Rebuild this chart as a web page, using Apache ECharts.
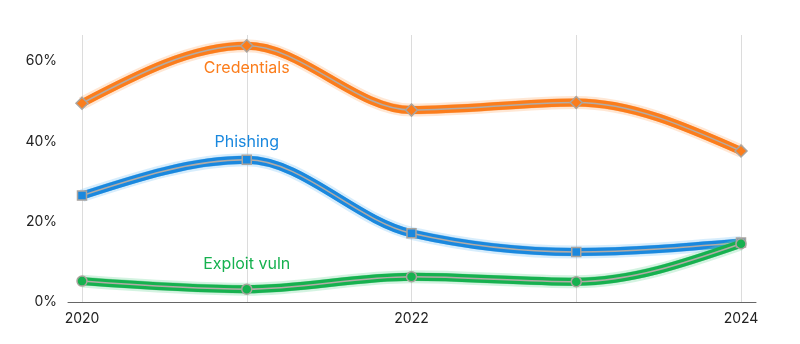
<!DOCTYPE html>
<html>
<head>
<meta charset="utf-8">
<script src="https://cdn.jsdelivr.net/npm/echarts@6/dist/echarts.min.js"></script>
<style>
html,body{margin:0;padding:0;background:#fff;}
#chart{width:800px;height:344px;}
</style>
</head>
<body>
<div id="chart"></div>
<script>
var years = [2020, 2021, 2022, 2023, 2024];
var xTickLabels = ['2020', '2022', '2024'];
var yTickLabels = ['0%', '20%', '40%', '60%'];
var credentials = [49.5, 63.8, 47.8, 49.7, 37.6];
var phishing = [26.5, 35.4, 17.1, 12.45, 14.8];
var exploit = [5.2, 3.2, 6.3, 5.06, 14.5];
var seriesNames = ['Credentials', 'Phishing', 'Exploit vuln'];

var FONT = 'Inter, "Liberation Sans", sans-serif';

function monotonePath(pts) {
  var n = pts.length;
  var t = new Array(n);
  function sign(v) { return v < 0 ? -1 : 1; }
  for (var i = 1; i < n - 1; i++) {
    var h0 = pts[i][0] - pts[i-1][0], h1 = pts[i+1][0] - pts[i][0];
    var s0 = (pts[i][1] - pts[i-1][1]) / h0, s1 = (pts[i+1][1] - pts[i][1]) / h1;
    var p = (s0 * h1 + s1 * h0) / (h0 + h1);
    t[i] = (sign(s0) + sign(s1)) * Math.min(Math.abs(s0), Math.abs(s1), 0.5 * Math.abs(p)) || 0;
  }
  var hA = pts[1][0] - pts[0][0];
  t[0] = (3 * (pts[1][1] - pts[0][1]) / hA - t[1]) / 2;
  var hB = pts[n-1][0] - pts[n-2][0];
  t[n-1] = (3 * (pts[n-1][1] - pts[n-2][1]) / hB - t[n-2]) / 2;
  var d = 'M' + pts[0][0] + ' ' + pts[0][1];
  for (var j = 0; j < n - 1; j++) {
    var dx = (pts[j+1][0] - pts[j][0]) / 3;
    d += ' C' + (pts[j][0] + dx) + ' ' + (pts[j][1] + dx * t[j]) + ' ' +
         (pts[j+1][0] - dx) + ' ' + (pts[j+1][1] - dx * t[j+1]) + ' ' +
         pts[j+1][0] + ' ' + pts[j+1][1];
  }
  return d;
}

function lineSeries(vals, color, light) {
  return {
    type: 'custom',
    coordinateSystem: 'cartesian2d',
    xAxisIndex: 0, yAxisIndex: 0,
    silent: true,
    clip: false,
    data: [[years[0], vals[0]]],
    renderItem: function (params, api) {
      var pts = years.map(function (x, i) { return api.coord([x, vals[i]]); });
      var d = monotonePath(pts);
      var children = [];
      children.push({ type: 'path', shape: { pathData: d }, style: { fill: null, stroke: light, lineWidth: 13, opacity: 0.3 } });
      var offs = [-3.5, -2.5, -1.5, 1.5, 2.5, 3.5];
      offs.forEach(function (o) {
        children.push({ type: 'path', y: o, shape: { pathData: d }, style: { fill: null, stroke: color, lineWidth: 1.5, opacity: 0.4 } });
      });
      children.push({ type: 'path', shape: { pathData: d }, style: { fill: null, stroke: color, lineWidth: 8 } });
      children.push({ type: 'path', shape: { pathData: d }, style: { fill: null, stroke: '#b3aca6', lineWidth: 1.5 } });
      return { type: 'group', children: children };
    }
  };
}

function markerSeries(name, vals, color, symbol, size, labelPos, labelOffset) {
  return {
    name: name,
    type: 'scatter',
    xAxisIndex: 0, yAxisIndex: 0,
    symbol: symbol,
    symbolSize: size,
    itemStyle: { color: color, borderColor: '#aaa49e', borderWidth: 1.5, opacity: 1 },
    silent: true,
    data: years.map(function (y, i) {
      var item = { value: [y, vals[i]] };
      if (i === 1) {
        item.label = {
          show: true, formatter: name, position: labelPos, offset: labelOffset,
          color: color, fontSize: 16, fontFamily: FONT
        };
      }
      return item;
    })
  };
}

var cOr = '#fb7d1c', cBl = '#1a88de', cGr = '#16b14f';

var option = {
  animation: false,
  backgroundColor: '#fff',
  grid: [
    { left: 82, right: 59, top: 35, bottom: 42 },
    { left: 68, right: 44, top: 35, bottom: 42 }
  ],
  xAxis: [
    {
      type: 'value', gridIndex: 0, min: 2020, max: 2024, interval: 1,
      axisLine: { show: false }, axisTick: { show: false },
      splitLine: { show: true, lineStyle: { color: '#dcdcdc', width: 1 } },
      axisLabel: {
        margin: 10, fontSize: 14, color: '#222', fontFamily: FONT,
        formatter: function (v) { var s = String(v); return xTickLabels.indexOf(s) >= 0 ? s : ''; }
      }
    },
    {
      type: 'value', gridIndex: 1, min: 0, max: 1,
      axisLine: { show: true, onZero: false, lineStyle: { color: '#666', width: 1 } },
      axisTick: { show: false }, axisLabel: { show: false }, splitLine: { show: false }
    }
  ],
  yAxis: [
    {
      type: 'value', gridIndex: 0, min: 0, max: 66.5, interval: 20,
      axisLine: { show: false }, axisTick: { show: false }, splitLine: { show: false },
      axisLabel: {
        margin: 25, fontSize: 14, color: '#222', fontFamily: FONT,
        formatter: function (v) { var s = v + '%'; return yTickLabels.indexOf(s) >= 0 ? s : ''; }
      }
    },
    {
      type: 'value', gridIndex: 1, min: 0, max: 1, show: false
    }
  ],
  series: [
    lineSeries(credentials, cOr, '#ffb070'),
    markerSeries(seriesNames[0], credentials, cOr, 'diamond', 12, 'bottom', [0, 3]),
    lineSeries(phishing, cBl, '#7cc4f5'),
    markerSeries(seriesNames[1], phishing, cBl, 'rect', 9, 'top', [0, 1]),
    lineSeries(exploit, cGr, '#6fd89a'),
    markerSeries(seriesNames[2], exploit, cGr, 'circle', 10, 'top', [0, -6])
  ]
};

var chart = echarts.init(document.getElementById('chart'), null, { renderer: 'canvas' });
chart.setOption(option);
</script>
</body>
</html>
